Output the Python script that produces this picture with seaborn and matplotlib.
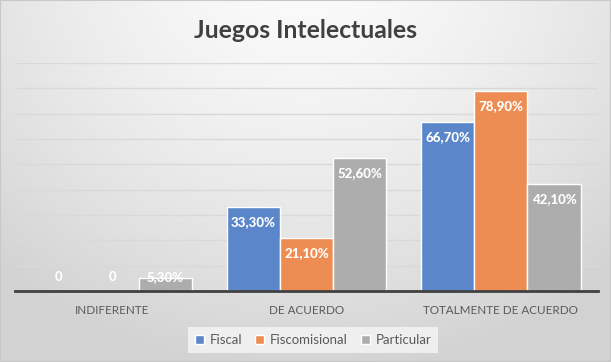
import numpy as np
import pandas as pd
import matplotlib
matplotlib.use("Agg")
import matplotlib.pyplot as plt
import seaborn as sns
from matplotlib.patches import Rectangle

categories = ["INDIFERENTE", "DE ACUERDO", "TOTALMENTE DE ACUERDO"]
series = ["Fiscal", "Fiscomisional", "Particular"]
fiscal = [0.0, 33.3, 66.7]
fiscomisional = [0.0, 21.1, 78.9]
particular = [5.3, 52.6, 42.1]
labels_fiscal = ["0", "33,30%", "66,70%"]
labels_fiscomisional = ["0", "21,10%", "78,90%"]
labels_particular = ["5,30%", "52,60%", "42,10%"]
colors = ["#5B87CA", "#EE8D53", "#ADADAD"]

rows = []
for s, vals in zip(series, [fiscal, fiscomisional, particular]):
    for c, v in zip(categories, vals):
        rows.append({"cat": c, "serie": s, "val": v})
df = pd.DataFrame(rows)

sns.set_theme(style="white")
plt.rcParams["font.family"] = ["Lato", "DejaVu Sans"]

fig = plt.figure(figsize=(6.11, 3.62), dpi=100)

# background gradient
bg = fig.add_axes([0, 0, 1, 1], zorder=-10)
h, w = 362, 611
yy, xx = np.mgrid[0:h, 0:w]
d = np.sqrt(((xx - w / 2) / (w * 0.75)) ** 2 + ((yy + 40) / (h * 1.15)) ** 2)
val = 0.985 - 0.16 * np.clip(d, 0, 1) ** 1.5
img = np.dstack([val, val, val])
bg.imshow(img, aspect="auto", extent=[0, 1, 0, 1], origin="upper")
bg.axis("off")

ax = fig.add_axes([15 / 611, 1 - 291 / 362, (598 - 15) / 611, (291 - 63) / 362])
ax.patch.set_alpha(0)

sns.barplot(data=df, x="cat", y="val", hue="serie", palette=colors,
            width=0.82, ax=ax, edgecolor="white", linewidth=1.0,
            saturation=1, zorder=3, legend=True)

ax.set_ylim(0, 90)
ax.set_yticks(np.arange(0, 91, 10))
ax.yaxis.grid(True, color="#D9D9D9", linewidth=1, zorder=0)
ax.set_axisbelow(True)
ax.tick_params(axis="y", left=False, labelleft=False)
ax.tick_params(axis="x", bottom=False, labelsize=8.4, colors="#595959", pad=4)
for sp in ["top", "right", "left"]:
    ax.spines[sp].set_visible(False)
ax.spines["bottom"].set_color("#404040")
ax.spines["bottom"].set_linewidth(2)
ax.spines["bottom"].set_zorder(5)
ax.set_xlabel("")
ax.set_ylabel("")

all_labels = [labels_fiscal, labels_fiscomisional, labels_particular]
all_vals = [fiscal, fiscomisional, particular]
px_per_unit = (291 - 63) / 90.0
for cont, labs, vals in zip(ax.containers, all_labels, all_vals):
    for bar, lab, v in zip(cont, labs, vals):
        xc = bar.get_x() + bar.get_width() / 2
        if v * px_per_unit > 30:
            ax.annotate(lab, (xc, v), xytext=(0, -15 * 0.72), textcoords="offset points",
                        ha="center", va="center", color="white", fontsize=9.5,
                        fontweight="black", zorder=6)
        else:
            ax.annotate(lab, (xc, 0), xytext=(0, 14 * 0.72), textcoords="offset points",
                        ha="center", va="center", color="white", fontsize=9.5,
                        fontweight="black", zorder=6)

ax.legend_.remove()
handles = [Rectangle((0, 0), 1, 1, facecolor=c) for c in colors]
leg = fig.legend(handles, series, loc="center", bbox_to_anchor=(313 / 611, 1 - 340 / 362),
                 ncol=3, frameon=True, fontsize=9.5, handlelength=0.7, handleheight=0.7,
                 handletextpad=0.4, columnspacing=1.0, borderpad=0.5)
leg.get_frame().set_facecolor("#F2F2F2")
leg.get_frame().set_edgecolor("none")
leg.get_frame().set_alpha(0.9)
leg.get_frame().set_boxstyle("square", pad=0)
for t in leg.get_texts():
    t.set_color("#595959")

fig.text(306 / 611, 1 - 31 / 362, "Juegos Intelectuales", ha="center", va="center",
         fontsize=17.8, fontweight="bold", color="#404040")

fig.patches.append(Rectangle((0, 0), 1, 1, transform=fig.transFigure, fill=False,
                             edgecolor="#C8C8C8", linewidth=1.5, zorder=20))

fig.savefig("out.png", dpi=100)
